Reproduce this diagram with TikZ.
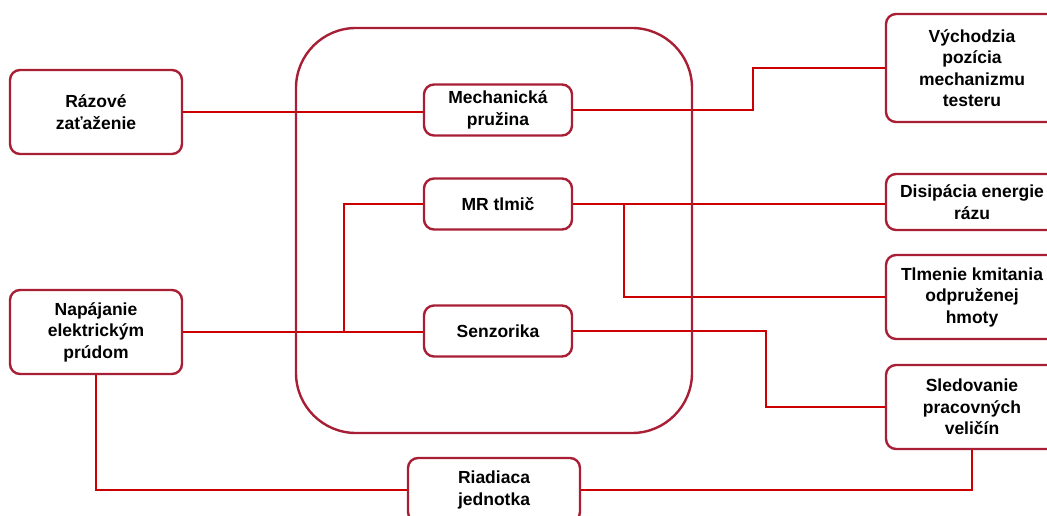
\documentclass[tikz,border=0pt]{standalone}
\usepackage{fontspec}
\setmainfont{Liberation Sans}
\pgfdeclarelayer{background}
\pgfsetlayers{background,main}
\definecolor{bcol}{RGB}{168,30,52}
\definecolor{lcol}{RGB}{204,0,0}
\begin{document}
\begin{tikzpicture}[x=1pt,y=-1pt,
  box/.style={draw=bcol, line width=2.4pt, rounded corners=10pt, fill=white,
    align=center, font=\fontsize{17.5}{21.5}\selectfont\bfseries, inner sep=0pt},
  conn/.style={draw=lcol, line width=2pt}]
\useasboundingbox (0,0) rectangle (1047,516);
% container
\node[draw=bcol, line width=2.4pt, rounded corners=60pt, minimum width=396pt, minimum height=405pt, inner sep=0pt] (cont) at (494,230.5) {};
% left
\node[box, minimum width=172pt, minimum height=84pt] (raz) at (96,112) {Rázové\\zaťaženie};
\node[box, minimum width=172pt, minimum height=84pt] (nap) at (96,332) {Napájanie\\elektrickým\\prúdom};
% middle
\node[box, minimum width=148pt, minimum height=51pt] (mech) at (498,110) {Mechanická\\pružina};
\node[box, minimum width=148pt, minimum height=51pt] (mr) at (498,204) {MR tlmič};
\node[box, minimum width=148pt, minimum height=51pt] (sen) at (498,331) {Senzorika};
\node[box, minimum width=172pt, minimum height=64pt] (ria) at (494,490) {Riadiaca\\jednotka};
% right
\node[box, minimum width=172pt, minimum height=108pt] (vych) at (972,68) {Východzia\\pozícia\\mechanizmu\\testeru};
\node[box, minimum width=172pt, minimum height=56pt] (dis) at (972,202) {Disipácia energie\\rázu};
\node[box, minimum width=172pt, minimum height=84pt] (tlm) at (972,297) {Tlmenie kmitania\\odpruženej\\hmoty};
\node[box, minimum width=172pt, minimum height=84pt] (sle) at (972,407) {Sledovanie\\pracovných\\veličín};
% junctions
\coordinate (m1) at (753,110);
\coordinate (j1) at (624,204);
\coordinate (j2) at (344,332);
\coordinate (s1) at (766,331);
\begin{pgfonlayer}{background}
\draw[conn] (raz.east) -- (raz.east -| mech.west);
\draw[conn] (mech.east) -- (m1) |- (vych.west);
\draw[conn] (mr.east) -- (mr.east -| dis.west);
\draw[conn] (j1) |- (tlm.west);
\draw[conn] (nap.east) -- (nap.east -| sen.west);
\draw[conn] (j2) |- (mr.west);
\draw[conn] (sen.east) -- (s1) |- (sle.west);
\draw[conn] (nap.south) |- (ria.west);
\draw[conn] (ria.east) -| (sle.south);
\end{pgfonlayer}
\end{tikzpicture}
\end{document}
